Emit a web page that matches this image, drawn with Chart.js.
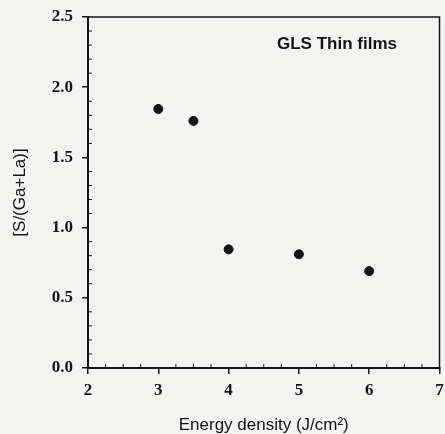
<!DOCTYPE html>
<html>
<head>
<meta charset="utf-8">
<script src="https://cdn.jsdelivr.net/npm/chart.js@4"></script>
<style>
    html, body { margin: 0; padding: 0; background: #f3f3f1; }
    #wrap { width: 445px; height: 434px; }
</style>
</head>
<body>
<div id="wrap"><canvas id="gls"></canvas></div>
<script>
const energyDensity = [3, 3.5, 4, 5, 6];
const sulfurRatio = [1.845, 1.76, 0.845, 0.81, 0.69];
const xTicks = [2, 3, 4, 5, 6, 7];
const yTicks = [0, 0.5, 1.0, 1.5, 2.0, 2.5];
const legendText = "GLS Thin films";

const ink = "#141414";

// frame, minor ticks and in-plot caption
const framePlugin = {
    id: "frame",
    afterDraw(chart) {
        const { ctx, chartArea: a, scales } = chart;
        ctx.save();
        ctx.strokeStyle = ink;
        ctx.lineWidth = 1.5;
        ctx.strokeRect(a.left, a.top, a.right - a.left, a.bottom - a.top);

        ctx.lineWidth = 1;
        ctx.beginPath();
        for (let v = 2.25; v < 7; v += 0.25) {
            if (Math.abs(v - Math.round(v)) < 1e-6) continue;
            const x = scales.x.getPixelForValue(v);
            ctx.moveTo(x, a.bottom);
            ctx.lineTo(x, a.bottom - 4);
        }
        for (let i = 1; i < 25; i++) {
            if (i % 5 === 0) continue;
            const y = scales.y.getPixelForValue(i / 10);
            ctx.moveTo(a.left, y);
            ctx.lineTo(a.left + 4, y);
        }
        ctx.stroke();

        ctx.fillStyle = ink;
        ctx.font = "bold 17px 'Liberation Sans', Arial, sans-serif";
        ctx.textBaseline = "alphabetic";
        ctx.fillText(legendText, a.left + 189, a.top + 32);
        ctx.restore();
    },
};

new Chart(document.getElementById("gls"), {
    type: "scatter",
    data: {
        datasets: [
            {
                label: legendText,
                data: energyDensity.map((x, i) => ({ x: x, y: sulfurRatio[i] })),
                backgroundColor: ink,
                borderColor: ink,
                pointRadius: 4.5,
                pointHoverRadius: 4.5,
            },
        ],
    },
    options: {
        responsive: true,
        maintainAspectRatio: false,
        animation: false,
        layout: { padding: { top: 17, right: 3, left: 0, bottom: 0 } },
        plugins: {
            legend: { display: false },
            tooltip: { enabled: false },
        },
        scales: {
            x: {
                type: "linear",
                min: 2,
                max: 7,
                afterFit: (scale) => {
                    scale.height = 66;
                    scale.paddingLeft = 0;
                    scale.paddingRight = 0;
                },
                afterBuildTicks: (scale) => {
                    scale.ticks = xTicks.map((v) => ({ value: v }));
                },
                ticks: {
                    color: ink,
                    padding: 6,
                    font: { family: "'Liberation Serif', 'Times New Roman', serif", size: 17, weight: "bold" },
                },
                grid: { drawOnChartArea: false, color: ink, lineWidth: 1.5, tickLength: 6 },
                border: { color: ink, width: 2 },
                title: {
                    display: true,
                    text: "Energy density (J/cm²)",
                    color: ink,
                    padding: { top: 0, bottom: -2 },
                    font: { family: "'Liberation Sans', Arial, sans-serif", size: 17 },
                },
            },
            y: {
                min: 0,
                max: 2.5,
                afterFit: (scale) => {
                    scale.width = 88;
                    scale.paddingTop = 0;
                    scale.paddingBottom = 0;
                },
                afterBuildTicks: (scale) => {
                    scale.ticks = yTicks.map((v) => ({ value: v }));
                },
                ticks: {
                    color: ink,
                    padding: 9,
                    callback: (v) => Number(v).toFixed(1),
                    font: { family: "'Liberation Serif', 'Times New Roman', serif", size: 17, weight: "bold" },
                },
                grid: { drawOnChartArea: false, color: ink, lineWidth: 1.5, tickLength: 6 },
                border: { color: ink, width: 2 },
                title: {
                    display: true,
                    text: "[S/(Ga+La)]",
                    color: ink,
                    padding: { top: 10, bottom: 0 },
                    font: { family: "'Liberation Sans', Arial, sans-serif", size: 17 },
                },
            },
        },
    },
    plugins: [framePlugin],
});
</script>
</body>
</html>
